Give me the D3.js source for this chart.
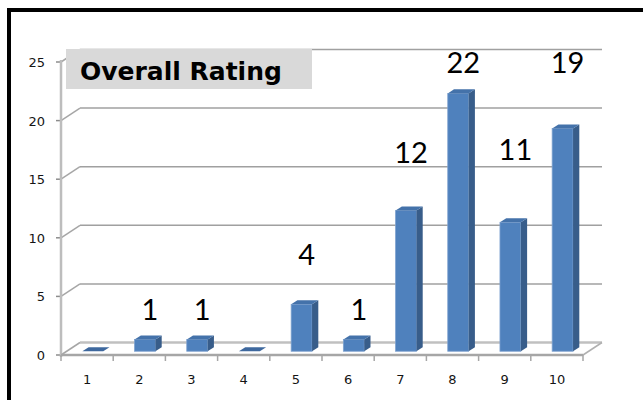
<!DOCTYPE html>
<html>
<head>
<meta charset="utf-8">
<script src="https://cdn.jsdelivr.net/npm/d3@7"></script>
<style>
  body { margin: 0; background: #fff; }
</style>
</head>
<body>
<div class="area"></div>
<script>
var categories = ['1', '2', '3', '4', '5', '6', '7', '8', '9', '10'];
var values = [0, 1, 1, 0, 4, 1, 12, 22, 11, 19];
var yTicks = [0, 5, 10, 15, 20, 25];
// where the hand placed value labels sit, in rating units
var labelAt = [null, 3, 3, null, 7.7, 3, 16.4, 24.1, 16.6, 24.1];
var title = 'Overall Rating';

var svg = d3.select('.area')
    .append('svg')
    .attr('width', 643)
    .attr('height', 400);

var x = d3.scaleBand()
    .domain(categories)
    .range([61, 583])
    .paddingInner(0.6)
    .paddingOuter(0.3);

var y = d3.scaleLinear()
    .domain([0, 25])
    .range([355, 62]);

// depth of the 3d box and where the bars sit inside it
var depth = {x: 19, y: -12.5};
var front = 0.3, back = 0.63;
var fx = depth.x * front, fy = depth.y * front;
var sx = depth.x * (back - front), sy = depth.y * (back - front);

var step = x.step();
var left = x.range()[0], right = x.range()[1];

// walls: diagonal on the side wall + horizontal on the back wall
yTicks.forEach(function (t) {
    var yy = y(t);
    svg.append('line')
        .attr('x1', left).attr('y1', yy)
        .attr('x2', left + depth.x).attr('y2', yy + depth.y)
        .style('stroke', '#a6a6a6').style('stroke-width', 1.5);
    svg.append('line')
        .attr('x1', left + depth.x).attr('y1', yy + depth.y)
        .attr('x2', right + depth.x).attr('y2', yy + depth.y)
        .style('stroke', t == 0 ? '#c0c0c0' : '#a0a0a0')
        .style('stroke-width', t == 0 ? 2.5 : 1.5);
    svg.append('line')
        .attr('x1', left - 5).attr('y1', yy)
        .attr('x2', left).attr('y2', yy)
        .style('stroke', '#8c8c8c').style('stroke-width', 1.5);
    svg.append('text')
        .attr('x', 45)
        .attr('y', yy + 5)
        .text(t)
        .attr('text-anchor', 'end')
        .attr('font-family', 'DejaVu Sans')
        .style('font-size', '13px')
        .attr('fill', '#141414');
});

// floor right diagonal
svg.append('line')
    .attr('x1', right).attr('y1', y(0))
    .attr('x2', right + depth.x).attr('y2', y(0) + depth.y)
    .style('stroke', '#b0b0b0').style('stroke-width', 1.5);

// value axis line
svg.append('line')
    .attr('x1', left).attr('y1', y(25) - 2)
    .attr('x2', left).attr('y2', y(0) + 2)
    .style('stroke', '#bdbdbd').style('stroke-width', 2.5);

// category axis line + ticks
svg.append('line')
    .attr('x1', left).attr('y1', y(0))
    .attr('x2', right).attr('y2', y(0))
    .style('stroke', '#a6a6a6').style('stroke-width', 2.5);

for (var k = 0; k <= categories.length; k++) {
    svg.append('line')
        .attr('x1', left + k * step).attr('y1', y(0))
        .attr('x2', left + k * step).attr('y2', y(0) + 6)
        .style('stroke', '#a6a6a6').style('stroke-width', 1.5);
}

svg.selectAll('.xlab')
    .data(categories)
    .enter().append('text')
    .attr('x', function (d) { return x(d) + x.bandwidth() / 2; })
    .attr('y', 384)
    .text(function (d) { return d; })
    .attr('text-anchor', 'middle')
    .attr('font-family', 'DejaVu Sans')
    .style('font-size', '13px')
    .attr('fill', '#141414');

// bars
var bw = x.bandwidth();
categories.forEach(function (c, i) {
    var x0 = x(c) + fx, x1 = x0 + bw;
    var yb = y(0) + fy, yt = y(values[i]) + fy;

    if (values[i] > 0) {
        svg.append('rect')
            .attr('x', x0).attr('y', yt)
            .attr('width', bw).attr('height', yb - yt)
            .attr('fill', '#4f81bd')
            .style('stroke', '#7ea2cf').style('stroke-width', 0.8);
        svg.append('polygon')
            .attr('points', [[x1, yt], [x1 + sx, yt + sy], [x1 + sx, yb + sy], [x1, yb]].join(' '))
            .attr('fill', '#385d8a');
    }
    svg.append('polygon')
        .attr('points', [[x0, yt], [x1, yt], [x1 + sx, yt + sy], [x0 + sx, yt + sy]].join(' '))
        .attr('fill', values[i] > 0 ? '#4472aa' : '#3e689e');

    if (labelAt[i] != null) {
        svg.append('text')
            .attr('x', x0 + bw / 2 + 5)
            .attr('y', y(labelAt[i]))
            .text(values[i])
            .attr('text-anchor', 'middle')
            .attr('font-family', 'Lato')
            .style('font-size', '29px')
            .attr('fill', 'black');
    }
});

// title box
svg.append('rect')
    .attr('x', 66).attr('y', 49)
    .attr('width', 246).attr('height', 40)
    .attr('fill', '#d9d9d9');

svg.append('text')
    .attr('x', 80)
    .attr('y', 80)
    .text(title)
    .attr('font-family', 'DejaVu Sans')
    .attr('font-weight', 'bold')
    .style('font-size', '25px')
    .attr('fill', 'black');

// outer frame (left and top edges only show)
svg.append('line')
    .attr('x1', 9).attr('y1', 8)
    .attr('x2', 9).attr('y2', 400)
    .style('stroke', 'black').style('stroke-width', 4);
svg.append('line')
    .attr('x1', 7).attr('y1', 10)
    .attr('x2', 643).attr('y2', 10)
    .style('stroke', 'black').style('stroke-width', 4);
</script>
</body>
</html>
